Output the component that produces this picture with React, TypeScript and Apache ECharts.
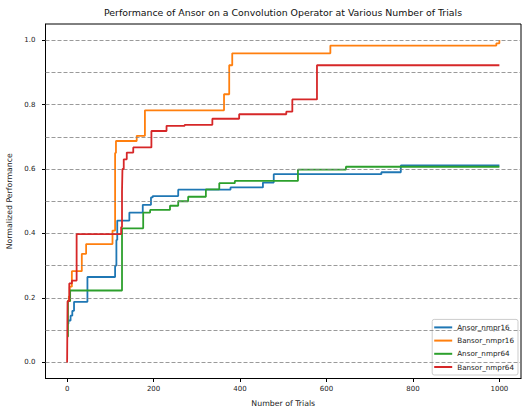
import React, { useEffect, useRef } from "react";
import * as echarts from "echarts";

const seriesNames = ["Ansor_nmpr16", "Bansor_nmpr16", "Ansor_nmpr64", "Bansor_nmpr64"];
const seriesColors = ["#1f77b4", "#ff7f0e", "#2ca02c", "#d62728"];

const ansor16Trials = [0, 3, 8, 12, 16, 47, 111, 114, 116, 144, 175, 194, 198, 257, 378, 453, 478, 727, 772, 1000];
const ansor16Values = [0.12, 0.13, 0.145, 0.16, 0.188, 0.265, 0.3, 0.38, 0.44, 0.465, 0.489, 0.512, 0.516, 0.536, 0.543, 0.558, 0.584, 0.59, 0.611, 0.611];

const bansor16Trials = [0, 4, 6, 11, 34, 44, 105, 111, 113, 161, 180, 363, 375, 382, 609, 993, 1000];
const bansor16Values = [0.19, 0.205, 0.235, 0.283, 0.337, 0.367, 0.409, 0.65, 0.687, 0.703, 0.782, 0.832, 0.922, 0.959, 0.983, 0.99, 1.0];

const ansor64Trials = [0, 2, 7, 127, 176, 192, 238, 257, 280, 321, 352, 388, 534, 645, 1000];
const ansor64Values = [0.08, 0.19, 0.223, 0.416, 0.465, 0.473, 0.486, 0.5, 0.514, 0.537, 0.556, 0.563, 0.598, 0.607, 0.607];

const bansor64Trials = [0, 1, 5, 11, 22, 125, 127, 128, 131, 138, 153, 195, 230, 272, 336, 398, 507, 521, 578, 1000];
const bansor64Values = [0.0, 0.19, 0.245, 0.254, 0.398, 0.42, 0.53, 0.6, 0.63, 0.651, 0.667, 0.718, 0.734, 0.737, 0.756, 0.77, 0.778, 0.816, 0.922, 0.922];

const xTickValues = [0, 200, 400, 600, 800, 1000];
const yTickValues = [0, 0.2, 0.4, 0.6, 0.8, 1.0];
const yGridValues = [0, 0.1, 0.2, 0.3, 0.4, 0.5, 0.6, 0.7, 0.8, 0.9, 1.0];

const titleText = "Performance of Ansor on a Convolution Operator at Various Number of Trials";
const xName = "Number of Trials";
const yName = "Normalized Performance";

const zip = (xs: number[], ys: number[]) => xs.map((x, i) => [x, ys[i]]);

export default function App() {
  const ref = useRef<HTMLDivElement>(null);
  useEffect(() => {
    document.body.style.margin = "0";
    if (!ref.current) return;
    const chart = echarts.init(ref.current, undefined, { renderer: "svg" });
    const font = "DejaVu Sans";
    const allData = [
      zip(ansor16Trials, ansor16Values),
      zip(bansor16Trials, bansor16Values),
      zip(ansor64Trials, ansor64Values),
      zip(bansor64Trials, bansor64Values),
    ];
    const option: any = {
      animation: false,
      backgroundColor: "#fff",
      textStyle: { fontFamily: font },
      graphic: [
        {
          type: "text",
          x: 283,
          y: 12,
          style: {
            text: titleText,
            fontFamily: font,
            fontSize: 9.4,
            fill: "#111",
            textAlign: "center",
            textVerticalAlign: "middle",
          },
        },
      ],
      grid: {
        left: 45.5,
        right: 1,
        top: 24,
        bottom: 29.5,
        containLabel: false,
        outerBoundsMode: "none",
        show: true,
        borderColor: "#000",
        borderWidth: 1,
        backgroundColor: "#fff",
      },
      legend: {
        data: seriesNames,
        orient: "vertical",
        right: 4,
        bottom: 33,
        icon: "rect",
        itemWidth: 18,
        itemHeight: 2,
        itemGap: 5.2,
        padding: [4, 4, 4, 2],
        borderColor: "#ccc",
        borderWidth: 1,
        borderRadius: 2,
        backgroundColor: "rgba(255,255,255,0.8)",
        textStyle: { fontFamily: font, fontSize: 7.2, color: "#222", lineHeight: 8 },
      },
      xAxis: {
        type: "value",
        min: -50,
        max: 1050,
        name: xName,
        nameLocation: "middle",
        nameGap: 21,
        nameTextStyle: { fontFamily: font, fontSize: 7.8, color: "#222" },
        axisLine: { show: true, onZero: false, lineStyle: { color: "#000", width: 1 } },
        axisTick: { show: true, length: 3.5, lineStyle: { color: "#000" }, customValues: xTickValues },
        axisLabel: {
          show: true,
          fontFamily: font,
          fontSize: 7,
          color: "#222",
          margin: 7,
          customValues: xTickValues,
          formatter: (v: number) => String(v),
        },
        splitLine: { show: false },
      },
      yAxis: {
        type: "value",
        min: -0.05,
        max: 1.05,
        name: yName,
        nameLocation: "middle",
        nameGap: 28,
        nameTextStyle: { fontFamily: font, fontSize: 7.8, color: "#222" },
        axisLine: { show: true, onZero: false, lineStyle: { color: "#000", width: 1 } },
        axisTick: { show: true, length: 3.5, lineStyle: { color: "#000" }, customValues: yTickValues },
        axisLabel: {
          show: true,
          fontFamily: font,
          fontSize: 7,
          color: "#222",
          margin: 10,
          customValues: yTickValues,
          formatter: (v: number) => v.toFixed(1),
        },
        splitLine: { show: false },
      },
      series: [
        {
          type: "line",
          name: "__grid",
          data: [],
          z: 1,
          silent: true,
          markLine: {
            silent: true,
            symbol: ["none", "none"],
            label: { show: false },
            lineStyle: { type: [4, 2], color: "#808080", width: 0.8 },
            data: yGridValues.map((v) => ({ yAxis: v })),
          },
        },
        ...seriesNames.map((name, i) => ({
          type: "line",
          name,
          data: allData[i],
          step: "end",
          symbol: "none",
          showSymbol: false,
          z: 2 + i,
          lineStyle: { color: seriesColors[i], width: 1.8 },
          itemStyle: { color: seriesColors[i] },
        })),
      ],
    };
    chart.setOption(option);
    return () => chart.dispose();
  }, []);
  return <div ref={ref} style={{ width: 522, height: 408 }} />;
}
